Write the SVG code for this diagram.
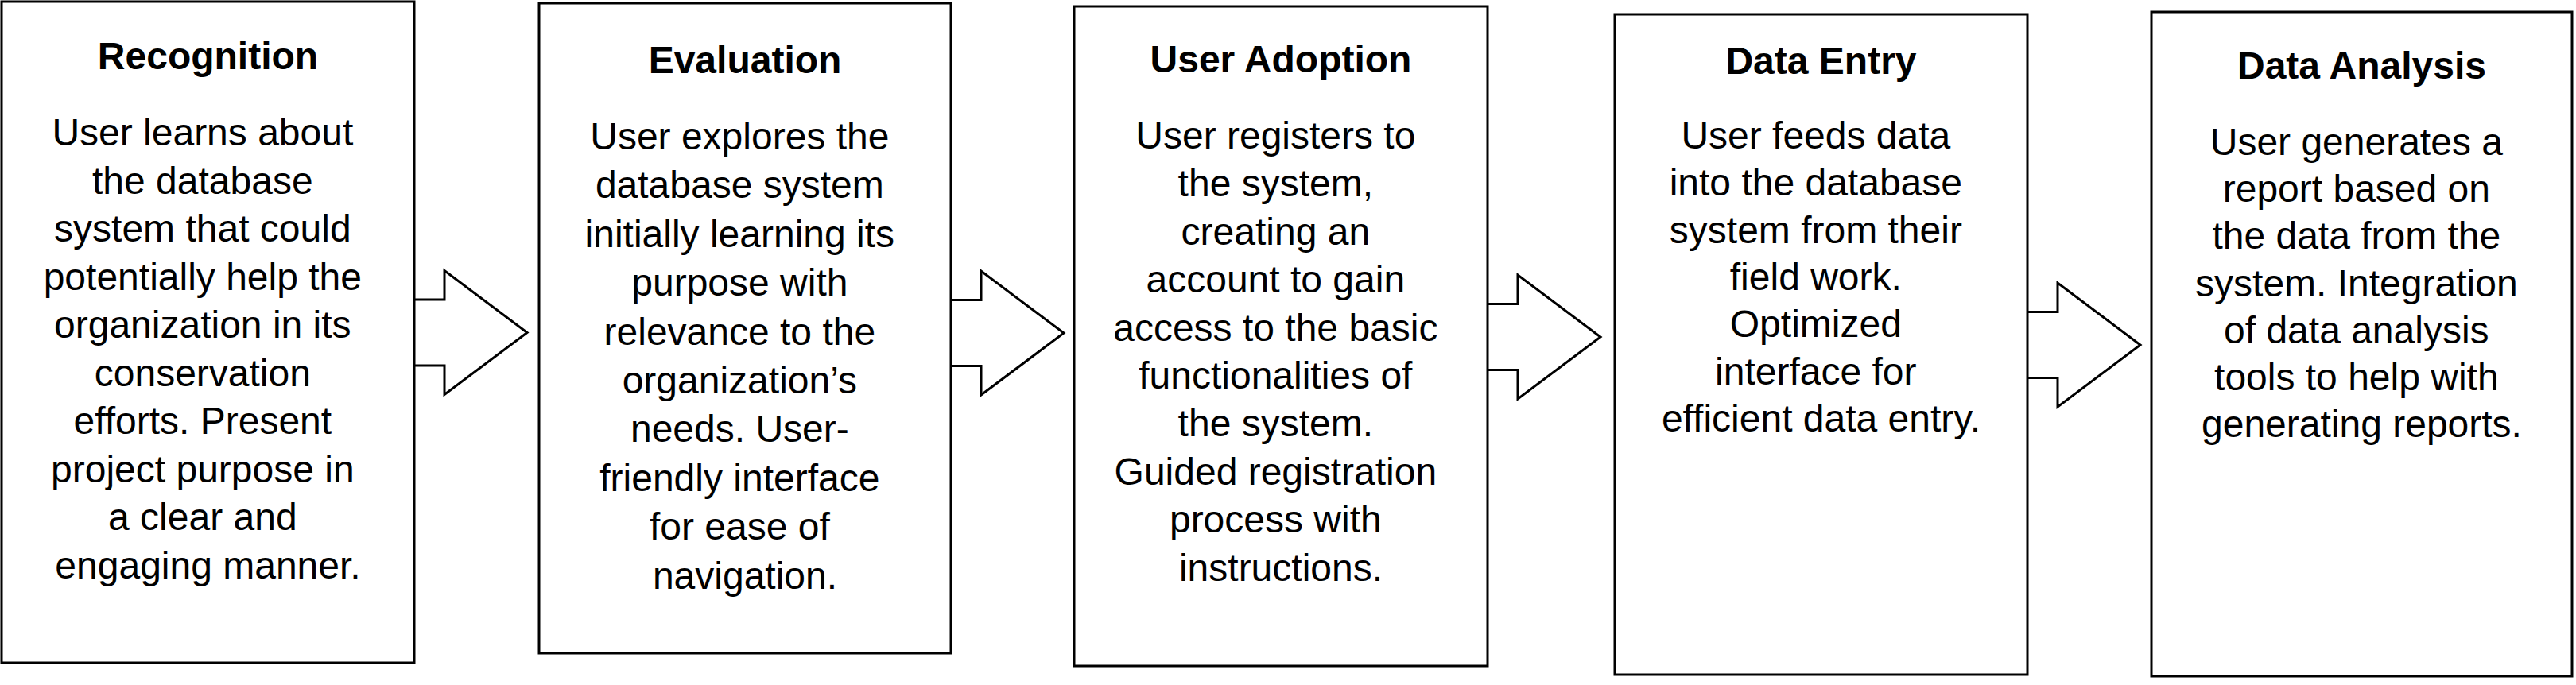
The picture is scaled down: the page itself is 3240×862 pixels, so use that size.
<svg xmlns="http://www.w3.org/2000/svg" width="3240" height="862" viewBox="0 0 3240 862">
<style>
.box{fill:#fff;stroke:#000;stroke-width:3}
.arr{fill:#fff;stroke:#000;stroke-width:3;stroke-linejoin:miter}
.t{font-family:"Liberation Sans",Arial,sans-serif;font-size:48px;font-weight:bold;text-anchor:middle;fill:#000}
.b{font-family:"Liberation Sans",Arial,sans-serif;font-size:48px;text-anchor:middle;fill:#000}
</style>
<rect width="3240" height="862" fill="#fff"/>
<g id="connectors">
<path class="arr" d="M521,377 H559 V340.5 L663,418.5 L559,496.5 V460 H521"/>
<path class="arr" d="M1196,377.5 H1234 V341 L1338,419 L1234,497 V460.5 H1196"/>
<path class="arr" d="M1871,382.5 H1909 V346 L2013,424 L1909,502 V465.5 H1871"/>
<path class="arr" d="M2550,392.5 H2588 V356 L2692,434 L2588,512 V475.5 H2550"/>
</g>
<g id="recognition">
<rect class="box" x="2" y="2" width="519" height="832"/>
<text class="t" x="261.5" y="87">Recognition</text>
<text class="b" x="261.5" y="183">
<tspan x="261.5" dy="0">User learns about</tspan>
<tspan x="261.5" dy="60.5">the database</tspan>
<tspan x="261.5" dy="60.5">system that could</tspan>
<tspan x="261.5" dy="60.5">potentially help the</tspan>
<tspan x="261.5" dy="60.5">organization in its</tspan>
<tspan x="261.5" dy="60.5">conservation</tspan>
<tspan x="261.5" dy="60.5">efforts. Present</tspan>
<tspan x="261.5" dy="60.5">project purpose in</tspan>
<tspan x="261.5" dy="60.5">a clear and</tspan>
<tspan x="261.5" dy="60.5">engaging manner.</tspan>
</text>
</g>
<g id="evaluation">
<rect class="box" x="678" y="4" width="518" height="818"/>
<text class="t" x="937" y="92">Evaluation</text>
<text class="b" x="937" y="188">
<tspan x="937" dy="0">User explores the</tspan>
<tspan x="937" dy="61.4">database system</tspan>
<tspan x="937" dy="61.4">initially learning its</tspan>
<tspan x="937" dy="61.4">purpose with</tspan>
<tspan x="937" dy="61.4">relevance to the</tspan>
<tspan x="937" dy="61.4">organization’s</tspan>
<tspan x="937" dy="61.4">needs. User-</tspan>
<tspan x="937" dy="61.4">friendly interface</tspan>
<tspan x="937" dy="61.4">for ease of</tspan>
<tspan x="937" dy="61.4">navigation.</tspan>
</text>
</g>
<g id="user-adoption">
<rect class="box" x="1351" y="8" width="520" height="830"/>
<text class="t" x="1611" y="91">User Adoption</text>
<text class="b" x="1611" y="187">
<tspan x="1611" dy="0">User registers to</tspan>
<tspan x="1611" dy="60.4">the system,</tspan>
<tspan x="1611" dy="60.4">creating an</tspan>
<tspan x="1611" dy="60.4">account to gain</tspan>
<tspan x="1611" dy="60.4">access to the basic</tspan>
<tspan x="1611" dy="60.4">functionalities of</tspan>
<tspan x="1611" dy="60.4">the system.</tspan>
<tspan x="1611" dy="60.4">Guided registration</tspan>
<tspan x="1611" dy="60.4">process with</tspan>
<tspan x="1611" dy="60.4">instructions.</tspan>
</text>
</g>
<g id="data-entry">
<rect class="box" x="2031" y="18" width="519" height="831"/>
<text class="t" x="2290.5" y="93">Data Entry</text>
<text class="b" x="2290.5" y="187">
<tspan x="2290.5" dy="0">User feeds data</tspan>
<tspan x="2290.5" dy="59.3">into the database</tspan>
<tspan x="2290.5" dy="59.3">system from their</tspan>
<tspan x="2290.5" dy="59.3">field work.</tspan>
<tspan x="2290.5" dy="59.3">Optimized</tspan>
<tspan x="2290.5" dy="59.3">interface for</tspan>
<tspan x="2290.5" dy="59.3">efficient data entry.</tspan>
</text>
</g>
<g id="data-analysis">
<rect class="box" x="2706" y="15" width="529" height="836"/>
<text class="t" x="2970.5" y="99">Data Analysis</text>
<text class="b" x="2970.5" y="195">
<tspan x="2970.5" dy="0">User generates a</tspan>
<tspan x="2970.5" dy="59.2">report based on</tspan>
<tspan x="2970.5" dy="59.2">the data from the</tspan>
<tspan x="2970.5" dy="59.2">system. Integration</tspan>
<tspan x="2970.5" dy="59.2">of data analysis</tspan>
<tspan x="2970.5" dy="59.2">tools to help with</tspan>
<tspan x="2970.5" dy="59.2">generating reports.</tspan>
</text>
</g>
</svg>
